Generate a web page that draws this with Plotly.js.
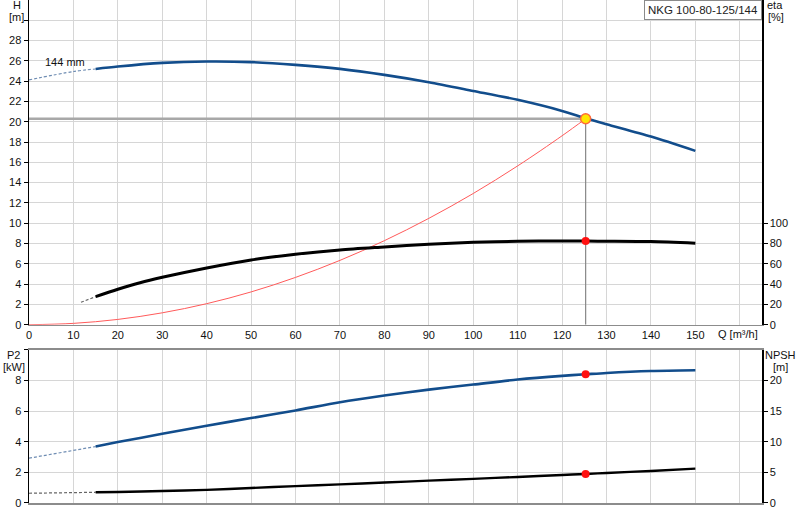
<!DOCTYPE html>
<html>
<head>
<meta charset="utf-8">
<script src="https://cdn.plot.ly/plotly-3.0.1.min.js"></script>
<style>html,body{margin:0;padding:0;background:#fff;}#chart{width:800px;height:520px;}</style>
</head>
<body>
<div id="chart"></div>
<script>
// ---- Data ----
const chartTitle = "NKG 100-80-125/144";
const impellerLabel = "144 mm";

// Head curve H [m]
const qHead = [15, 20, 30, 40, 50, 60, 70, 80, 90, 100, 110, 120, 125.3, 130, 140, 150];
const head = [25.2, 25.44, 25.8, 25.94, 25.88, 25.61, 25.21, 24.62, 23.9, 23.04, 22.16, 21.07, 20.35, 19.76, 18.54, 17.13];
const qHeadExt = [0, 10, 15];
const headExt = [24.13, 24.95, 25.2];

// Efficiency eta [%]
const qEta = [15, 20, 25, 30, 40, 50, 60, 70, 80, 90, 100, 110, 120, 125.3, 130, 140, 150];
const eta = [27.6, 34.9, 41.4, 46.7, 55.9, 63.8, 69.4, 73.7, 76.6, 79.3, 81.2, 82.2, 82.5, 82.4, 82.3, 81.9, 80.3];
const qEtaExt = [11.7, 15];
const etaExt = [22.1, 27.6];

// System curve (red)
const qSys = [0, 10, 20, 30, 40, 50, 60, 70, 80, 90, 100, 110, 120, 125.3];
const hSys = [0, 0.13, 0.52, 1.17, 2.07, 3.23, 4.66, 6.34, 8.28, 10.48, 12.93, 15.65, 18.62, 20.3];

// Power P2 [kW]
const qP2 = [15, 20, 30, 40, 50, 60, 70, 80, 90, 100, 110, 120, 125.3, 130, 140, 150];
const p2 = [3.69, 3.98, 4.52, 5.05, 5.55, 6.05, 6.58, 7.02, 7.41, 7.74, 8.07, 8.31, 8.41, 8.5, 8.63, 8.68];
const qP2Ext = [0, 10, 15];
const p2Ext = [2.93, 3.41, 3.69];

// NPSH [m]
const qNpsh = [15, 20, 30, 40, 50, 60, 70, 80, 90, 100, 110, 120, 125.3, 130, 140, 150];
const npsh = [1.75, 1.8, 1.96, 2.15, 2.45, 2.76, 3.05, 3.34, 3.65, 3.94, 4.26, 4.58, 4.75, 4.91, 5.24, 5.61];
const qNpshExt = [0, 15];
const npshExt = [1.59, 1.75];

// Duty point
const dutyQ = 125.3;
const dutyH = 20.3;
const dutyEta = 82.4;
const dutyP2 = 8.41;
const dutyNpsh = 4.75;

// Tick values
const qTicks = [0, 10, 20, 30, 40, 50, 60, 70, 80, 90, 100, 110, 120, 130, 140, 150, 160];
const qTickText = ["0","10","20","30","40","50","60","70","80","90","100","110","120","130","140","150",""];
const hTicks = [0,2,4,6,8,10,12,14,16,18,20,22,24,26,28,30];
const hTickText = ["0","2","4","6","8","10","12","14","16","18","20","22","24","26","28",""];
const etaTicks = [0, 20, 40, 60, 80, 100];
const p2Ticks = [0, 2, 4, 6, 8, 10];
const p2TickText = ["0","2","4","6","8",""];
const npshTicks = [0, 5, 10, 15, 20];

// ---- Styles ----
const BLUE = "#124d8c";
const GRID = "#d6d6d6";
const FONT = "Liberation Sans, Arial, sans-serif";

const traces = [
  // top plot
  {x: qSys, y: hSys, xaxis: "x", yaxis: "y", mode: "lines", line: {color: "#ff5a5a", width: 1, shape: "spline"}},
  {x: [0, dutyQ], y: [dutyH, dutyH], xaxis: "x", yaxis: "y", mode: "lines", line: {color: "#a8a8a8", width: 2.5}},
  {x: [dutyQ, dutyQ], y: [0, dutyH], xaxis: "x", yaxis: "y", mode: "lines", line: {color: "#888888", width: 1.2}},
  {x: qHeadExt, y: headExt, xaxis: "x", yaxis: "y", mode: "lines", line: {color: "#6f8db3", width: 1.2, dash: "3px,2px", shape: "spline"}},
  {x: qHead, y: head, xaxis: "x", yaxis: "y", mode: "lines", line: {color: BLUE, width: 2.6, shape: "spline", smoothing: 0.8}},
  {x: qEtaExt, y: etaExt, xaxis: "x", yaxis: "y2", mode: "lines", line: {color: "#666", width: 1.2, dash: "3px,2px"}},
  {x: qEta, y: eta, xaxis: "x", yaxis: "y2", mode: "lines", line: {color: "#000", width: 3, shape: "spline", smoothing: 0.8}},
  {x: [dutyQ], y: [dutyH], xaxis: "x", yaxis: "y", mode: "markers", marker: {color: "#ffe600", size: 10, line: {color: "#ff6a3a", width: 1.5}}},
  {x: [dutyQ], y: [dutyEta], xaxis: "x", yaxis: "y2", mode: "markers", marker: {color: "#ff1010", size: 8}},
  // bottom plot
  {x: qP2Ext, y: p2Ext, xaxis: "x2", yaxis: "y3", mode: "lines", line: {color: "#6f8db3", width: 1.2, dash: "3px,2px"}},
  {x: qP2, y: p2, xaxis: "x2", yaxis: "y3", mode: "lines", line: {color: BLUE, width: 2.6, shape: "spline", smoothing: 0.8}},
  {x: qNpshExt, y: npshExt, xaxis: "x2", yaxis: "y4", mode: "lines", line: {color: "#666", width: 1.2, dash: "3px,2px"}},
  {x: qNpsh, y: npsh, xaxis: "x2", yaxis: "y4", mode: "lines", line: {color: "#000", width: 2.4, shape: "spline", smoothing: 0.8}},
  {x: [dutyQ], y: [dutyP2], xaxis: "x2", yaxis: "y3", mode: "markers", marker: {color: "#ff1010", size: 8}},
  {x: [dutyQ], y: [dutyNpsh], xaxis: "x2", yaxis: "y4", mode: "markers", marker: {color: "#ff1010", size: 8}}
];

const tickFont = {family: FONT, size: 11, color: "#111"};
const labFont = {family: FONT, size: 11, color: "#111"};

const xCommon = {
  range: [0, 165], tickmode: "array", tickvals: qTicks,
  showgrid: true, gridcolor: GRID, gridwidth: 1, zeroline: false,
  showline: true, linecolor: "#8c8c8c", linewidth: 1.5, mirror: true,
  ticks: "", tickfont: tickFont
};

function lab(text, x, y) {
  return {text: text, xref: "paper", yref: "paper", x: x, y: y, xanchor: "center", yanchor: "middle",
          showarrow: false, font: labFont};
}

const layout = {
  width: 800, height: 520,
  margin: {l: 29, r: 38, t: 0, b: 17},
  paper_bgcolor: "#fff", plot_bgcolor: "#fff",
  showlegend: false, hovermode: false,
  font: {family: FONT, size: 11, color: "#111"},
  xaxis: Object.assign({}, xCommon, {domain: [0, 1], anchor: "y", ticktext: qTickText}),
  xaxis2: Object.assign({}, xCommon, {domain: [0, 1], anchor: "y3", showticklabels: false}),
  yaxis: {
    domain: [0.3545, 1], range: [0, 32], tickmode: "array", tickvals: hTicks, ticktext: hTickText,
    showgrid: true, gridcolor: GRID, zeroline: false,
    showline: true, linecolor: "#000", linewidth: 1.5,
    ticks: "outside", ticklen: 4, tickcolor: "#000", tickfont: tickFont
  },
  yaxis2: {
    overlaying: "y", side: "right", anchor: "x", range: [0, 320], tickmode: "array", tickvals: etaTicks,
    showgrid: false, zeroline: false,
    showline: true, linecolor: "#000", linewidth: 1.5,
    ticks: "outside", ticklen: 4, tickcolor: "#000", tickfont: tickFont
  },
  yaxis3: {
    domain: [0, 0.3042], anchor: "x2", range: [0, 10], tickmode: "array", tickvals: p2Ticks, ticktext: p2TickText,
    showgrid: true, gridcolor: GRID, zeroline: false,
    showline: true, linecolor: "#000", linewidth: 1.5,
    ticks: "outside", ticklen: 4, tickcolor: "#000", tickfont: tickFont
  },
  yaxis4: {
    overlaying: "y3", side: "right", anchor: "x2", range: [0, 25], tickmode: "array", tickvals: npshTicks,
    showgrid: false, zeroline: false,
    showline: true, linecolor: "#000", linewidth: 1.5,
    ticks: "outside", ticklen: 4, tickcolor: "#000", tickfont: tickFont
  },
  annotations: [
    {text: chartTitle, xref: "paper", yref: "paper", x: 1, y: 1, xanchor: "right", yanchor: "top",
     showarrow: false, font: {family: FONT, size: 11.5, color: "#222"}, bgcolor: "#fff",
     bordercolor: "#8a8a8a", borderwidth: 1, borderpad: 3},
    {text: impellerLabel, xref: "x", yref: "y", x: 8.2, y: 25.85, xanchor: "center", yanchor: "middle", showarrow: false, font: labFont},
    lab("H", -0.0168, 0.990),
    lab("[m]", -0.0168, 0.966),
    lab("eta", 1.0177, 0.990),
    lab("[%]", 1.019, 0.966),
    lab("Q [m³/h]", 0.967, 0.336),
    lab("P2", -0.0205, 0.2942),
    lab("[kW]", -0.0205, 0.2704),
    lab("NPSH", 1.0246, 0.2942),
    lab("[m]", 1.0246, 0.2704)
  ]
};

Plotly.newPlot("chart", traces, layout, {staticPlot: true, displayModeBar: false});
</script>
</body>
</html>
